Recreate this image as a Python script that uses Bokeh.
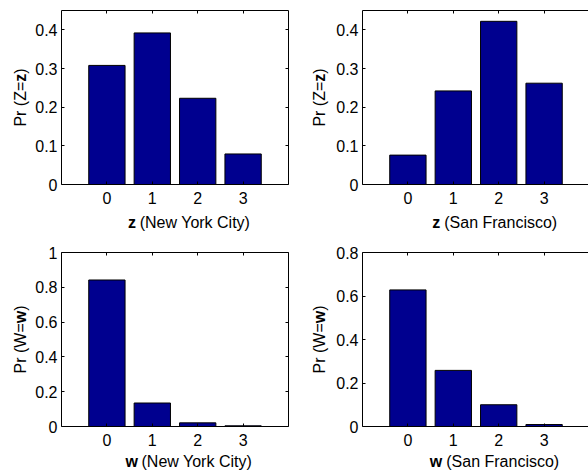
import math
from bokeh.plotting import figure
from bokeh.layouts import row, column
from bokeh.models import FixedTicker, LinearAxis, Range1d, CustomJSTickFormatter
from bokeh.core.properties import value
from bokeh.embed import file_html
from bokeh.resources import INLINE

# ---- data ----
categories = [0, 1, 2, 3]
nyc_z = [0.308, 0.392, 0.223, 0.079]
sf_z = [0.076, 0.242, 0.422, 0.262]
nyc_w = [0.842, 0.135, 0.021, 0.004]
sf_w = [0.628, 0.258, 0.100, 0.009]
z_ticks = [0, 0.1, 0.2, 0.3, 0.4]
w_nyc_ticks = [0, 0.2, 0.4, 0.6, 0.8, 1]
w_sf_ticks = [0, 0.2, 0.4, 0.6, 0.8]

FONT = "Liberation Sans"
FS = 16
FSS = f"{FS}px"
BAR = "#00008F"
SCALE = 45.4  # px per category unit

# Arial / Liberation Sans advance widths (per em)
REG = {" ": .278, "(": .333, ")": .333, "=": .584, "P": .667, "r": .333, "Z": .611,
       "W": .944, "N": .722, "e": .556, "w": .722, "Y": .667, "o": .556, "k": .5,
       "C": .722, "i": .222, "t": .278, "y": .5, "S": .667, "a": .556, "n": .556,
       "F": .611, "c": .5, "s": .5}
BOLD = {"z": .5, "w": .778}


def tw(s, table=REG):
    return sum(table[c] for c in s) * FS


def strip(w, h):
    s = figure(width=w, height=h, x_range=Range1d(0, w), y_range=Range1d(0, h),
               output_backend="svg", toolbar_location=None, tools="", min_border=0,
               x_axis_type=None, y_axis_type=None)
    s.outline_line_color = None
    s.background_fill_color = "white"
    s.border_fill_color = "white"
    return s


def put(s, x, y, text, bold=False, align="left", baseline="alphabetic", angle=0.0):
    s.text(x=[x], y=[y], text=[text], text_font=value(FONT), text_font_size=value(FSS),
           text_font_style=value("bold" if bold else "normal"), text_color="black",
           text_align=value(align), text_baseline=value(baseline), angle=angle)


def style(ax, labels=True):
    ax.axis_line_color = "black"
    ax.axis_line_width = 1
    ax.major_tick_line_color = "black"
    ax.major_tick_in = 3
    ax.major_tick_out = 0
    ax.minor_tick_line_color = None
    ax.major_label_text_font = FONT
    ax.major_label_text_font_size = FSS
    ax.major_label_text_color = "black"
    if not labels:
        ax.major_label_standoff = 0
        ax.major_label_text_font_size = "0px"


def cell(vals, ymax, yticks, var, Var, city, right, top):
    YW = 28 if right else 30         # y-label strip width
    mbl = 29 if right else 31
    mbr = 0 if right else 17
    fw = 226 if right else 227
    W = mbl + fw + mbr
    mbt = 10 if top else 12
    fh = 174 if top else 174
    mbb = 26 if top else 26
    H = mbt + fh + mbb
    SH = 30 if top else 22           # x-label strip height
    xend = -1 + fw / SCALE

    p = figure(width=W, height=H, x_range=Range1d(-1, xend), y_range=Range1d(0, ymax),
               output_backend="svg", toolbar_location=None, tools="",
               min_border_left=mbl, min_border_right=mbr,
               min_border_top=mbt, min_border_bottom=mbb)
    p.outline_line_color = None
    p.grid.visible = False
    p.background_fill_color = "white"
    p.border_fill_color = "white"
    p.vbar(x=categories, top=vals, width=0.8, fill_color=BAR, line_color="black", line_width=1)

    fmt = CustomJSTickFormatter(code="return tick.toString()")
    blank = CustomJSTickFormatter(code="return ''")
    xa = p.xaxis[0]
    xa.ticker = FixedTicker(ticks=categories)
    xa.formatter = fmt
    style(xa)
    xa.major_label_standoff = 7
    ya = p.yaxis[0]
    ya.ticker = FixedTicker(ticks=yticks)
    ya.formatter = fmt
    style(ya)
    ya.major_label_standoff = 4
    ta = LinearAxis(ticker=FixedTicker(ticks=categories), formatter=blank)
    style(ta, False)
    p.add_layout(ta, "above")
    if not right:
        ra = LinearAxis(ticker=FixedTicker(ticks=yticks), formatter=blank)
        style(ra, False)
        p.add_layout(ra, "right")

    # x label strip: bold var + " (" + city + ")", centred on the axes centre
    xs = strip(W, SH)
    rest = f"({city})"
    wz = tw(var, BOLD)
    L = wz + tw(" ") + tw(rest)
    cx = mbl + 2.5 * SCALE
    by = 18.5 if top else 13
    P = cx - L / 2 + wz
    put(xs, P, by, var, bold=True, align="right")
    put(xs, P + tw(" "), by, rest)

    # y label strip: "Pr (" + Var + "=" + bold var + ")", rotated
    ys = strip(YW, H + SH)
    p1 = f"Pr ({Var}="
    w1 = tw(p1)
    Ly = w1 + wz + tw(")")
    cy = (H + SH) - (mbt + fh / 2)
    s1 = cy - Ly / 2 + w1
    lx = 14 if right else 19.7
    ang = math.pi / 2
    put(ys, lx, s1, p1, align="right", baseline="middle", angle=ang)
    put(ys, lx, s1, var, bold=True, align="left", baseline="middle", angle=ang)
    put(ys, lx, s1 + wz, ")", align="left", baseline="middle", angle=ang)

    return row(ys, column(p, xs))


c1 = cell(nyc_z, 0.45, z_ticks, "z", "Z", "New York City", False, True)
c2 = cell(sf_z, 0.45, z_ticks, "z", "Z", "San Francisco", True, True)
c3 = cell(nyc_w, 1.0, w_nyc_ticks, "w", "W", "New York City", False, False)
c4 = cell(sf_w, 0.8, w_sf_ticks, "w", "W", "San Francisco", True, False)

layout = column(row(c1, c2), row(c3, c4))
open("out.html", "w").write(file_html(layout, INLINE))
